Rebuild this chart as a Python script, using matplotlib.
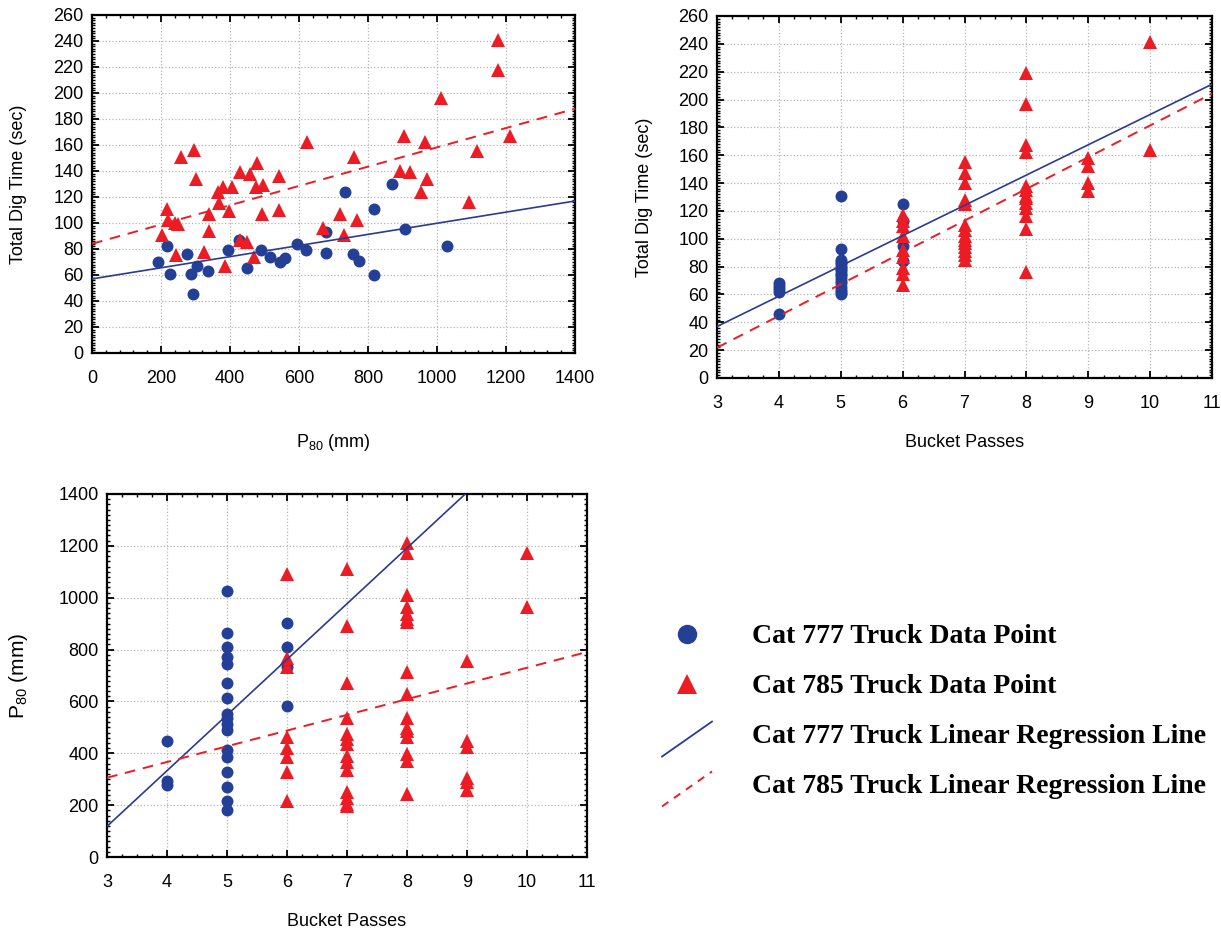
import numpy as np
import matplotlib
matplotlib.use("Agg")
import matplotlib.pyplot as plt
from matplotlib.lines import Line2D
from matplotlib.legend_handler import HandlerLine2D
from matplotlib.ticker import MultipleLocator

plt.rcParams['font.family'] = ['Liberation Sans', 'DejaVu Sans']
plt.rcParams['mathtext.fontset'] = 'custom'
plt.rcParams['mathtext.rm'] = 'Liberation Sans'
plt.rcParams['mathtext.default'] = 'rm'

# ---------------- data ----------------
# Top-left: P80 (mm) vs Total Dig Time (sec)
tl_777_p80 = [190, 218, 225, 274, 286, 293, 305, 335, 395, 427, 450, 491, 515, 546,
              559, 595, 619, 678, 678, 733, 757, 775, 817, 817, 871, 907, 1028]
tl_777_time = [70, 82, 61, 76, 61, 45, 67, 63, 79, 87, 65, 79, 74, 70,
               73, 84, 79, 93, 77, 124, 76, 71, 111, 60, 130, 95, 82]
tl_785_p80 = [1177, 1177, 1013, 905, 965, 1213, 1115, 622, 760, 259, 296, 301, 892, 923,
              972, 953, 1093, 218, 220, 242, 250, 204, 243, 325, 338, 338, 368, 366,
              380, 406, 398, 385, 428, 448, 428, 457, 477, 475, 496, 494, 470, 542,
              542, 670, 718, 730, 767]
tl_785_time = [241, 218, 196, 167, 162, 167, 155, 162, 151, 151, 156, 134, 140, 139,
               134, 124, 116, 111, 102, 100, 99, 91, 75, 78, 94, 107, 115, 124,
               128, 128, 109, 67, 87, 85, 139, 138, 146, 128, 129, 107, 74, 136,
               110, 96, 107, 91, 102]

# Top-right: Bucket Passes vs Total Dig Time (sec)
tr_777_passes = [4, 4, 4, 4, 4,
                 5, 5, 5, 5, 5, 5, 5, 5, 5, 5, 5, 5, 5, 5, 5, 5, 5,
                 6, 6, 6, 6]
tr_777_time = [68, 66, 64, 62, 46,
               131, 93, 85, 83, 82, 80, 78, 77, 75, 74, 72, 70, 68, 65, 63, 62, 60,
               125, 113, 95, 84]
tr_785_passes = [6, 6, 6, 6, 6, 6, 6, 6, 6,
                 7, 7, 7, 7, 7, 7, 7, 7, 7, 7, 7, 7, 7, 7,
                 8, 8, 8, 8, 8, 8, 8, 8, 8, 8, 8, 8, 8,
                 9, 9, 9, 9,
                 10, 10]
tr_785_time = [117, 113, 109, 102, 92, 87, 79, 75, 67,
               155, 147, 140, 128, 125, 110, 106, 102, 99, 97, 94, 91, 88, 85,
               219, 197, 167, 162, 138, 135, 131, 129, 126, 122, 116, 107, 76,
               158, 152, 140, 134,
               241, 164]

# Bottom-left: Bucket Passes vs P80 (mm)
bl_777_passes = [4, 4, 4,
                 5, 5, 5, 5, 5, 5, 5, 5, 5, 5, 5, 5, 5, 5, 5, 5, 5,
                 6, 6, 6, 6]
bl_777_p80 = [448, 292, 277,
              1026, 862, 808, 770, 744, 672, 615, 551, 538, 512, 489, 414, 384, 326, 270, 216, 183,
              903, 808, 733, 583]
bl_785_passes = [6, 6, 6, 6, 6, 6, 6, 6,
                 7, 7, 7, 7, 7, 7, 7, 7, 7, 7, 7, 7, 7, 7,
                 8, 8, 8, 8, 8, 8, 8, 8, 8, 8, 8, 8, 8, 8, 8, 8,
                 9, 9, 9, 9, 9, 9,
                 10, 10]
bl_785_p80 = [1091, 766, 731, 463, 422, 386, 328, 216,
              1109, 892, 673, 538, 476, 457, 435, 390, 367, 337, 251, 229, 206, 198,
              1212, 1171, 1010, 965, 939, 916, 907, 714, 628, 538, 499, 486, 461, 399, 371, 244,
              755, 448, 425, 306, 290, 257,
              1174, 965]

# regression lines (intercept, slope)
tl_777_fit = (57.0, 0.0428)
tl_785_fit = (84.0, 0.0742)
tr_777_fit = (-28.25, 21.75)
tr_785_fit = (-46.6, 22.8)
bl_777_fit = (-526.0, 214.7)
bl_785_fit = (124.0, 60.6)

legend_labels = ["Cat 777 Truck Data Point", "Cat 785 Truck Data Point",
                 "Cat 777 Truck Linear Regression Line", "Cat 785 Truck Linear Regression Line"]

# ---------------- style ----------------
BLUE = '#233f96'
RED = '#ed1c24'
LINE_BLUE = '#2b3a94'
TICK_FS = 13
LABEL_FS = 13

W, H = 1221, 933
fig = plt.figure(figsize=(W / 100, H / 100), dpi=100)


def px_axes(l, t, r, b):
    return fig.add_axes([l / W, 1 - b / H, (r - l) / W, (b - t) / H])


def style(ax, xmaj, xmin, ymaj, ymin):
    ax.xaxis.set_major_locator(MultipleLocator(xmaj))
    ax.xaxis.set_minor_locator(MultipleLocator(xmin))
    ax.yaxis.set_major_locator(MultipleLocator(ymaj))
    ax.yaxis.set_minor_locator(MultipleLocator(ymin))
    ax.tick_params(which='both', direction='in', top=True, right=True,
                   labelsize=TICK_FS, colors='black')
    ax.tick_params(which='major', length=5, width=1.3)
    ax.tick_params(which='minor', length=2.5, width=1.0)
    ax.tick_params(axis='x', which='major', pad=12)
    ax.tick_params(axis='y', which='major', pad=6)
    for s in ax.spines.values():
        s.set_linewidth(1.6)
    ax.grid(True, which='major', linestyle=':', color='#b5b5b5', linewidth=0.9)
    ax.set_axisbelow(True)


def scatter(ax, x1, y1, x2, y2):
    ax.plot(x1, y1, 'o', color=BLUE, markersize=8.6, markeredgewidth=0, zorder=3)
    ax.plot(x2, y2, '^', color=RED, markersize=10.5, markeredgewidth=0, zorder=4)


def fit_lines(ax, xr, f777, f785):
    xs = np.array(xr, dtype=float)
    ax.plot(xs, f777[0] + f777[1] * xs, '-', color=LINE_BLUE, linewidth=1.2, zorder=5)
    ax.plot(xs, f785[0] + f785[1] * xs, '--', color=RED, linewidth=1.4,
            dashes=(5.5, 4), zorder=5)


# top-left
ax1 = px_axes(92, 15, 575, 353)
scatter(ax1, tl_777_p80, tl_777_time, tl_785_p80, tl_785_time)
fit_lines(ax1, [0, 1400], tl_777_fit, tl_785_fit)
ax1.set_xlim(0, 1400)
ax1.set_ylim(0, 260)
style(ax1, 200, 40, 20, 2)
ax1.set_xlabel(r'P$_{80}$ (mm)', fontsize=LABEL_FS)
ax1.set_ylabel('Total Dig Time (sec)', fontsize=LABEL_FS)
ax1.xaxis.set_label_coords(0.5, -0.235)
ax1.yaxis.set_label_coords(-0.135, 0.5)

# top-right
ax2 = px_axes(717, 16, 1212, 378)
scatter(ax2, tr_777_passes, tr_777_time, tr_785_passes, tr_785_time)
fit_lines(ax2, [3, 11], tr_777_fit, tr_785_fit)
ax2.set_xlim(3, 11)
ax2.set_ylim(0, 260)
style(ax2, 1, 0.25, 20, 2)
ax2.set_xlabel('Bucket Passes', fontsize=LABEL_FS)
ax2.set_ylabel('Total Dig Time (sec)', fontsize=LABEL_FS)
ax2.xaxis.set_label_coords(0.5, -0.155)
ax2.yaxis.set_label_coords(-0.13, 0.5)

# bottom-left
ax3 = px_axes(107, 494, 587, 857)
scatter(ax3, bl_777_passes, bl_777_p80, bl_785_passes, bl_785_p80)
fit_lines(ax3, [3, 11], bl_777_fit, bl_785_fit)
ax3.set_xlim(3, 11)
ax3.set_ylim(0, 1400)
style(ax3, 1, 0.25, 200, 20)
ax3.set_xlabel('Bucket Passes', fontsize=LABEL_FS)
ax3.set_ylabel(r'P$_{80}$ (mm)', fontsize=15)
ax3.xaxis.set_label_coords(0.5, -0.155)
ax3.yaxis.set_label_coords(-0.16, 0.5)


# legend with diagonal line keys
class HandlerDiag(HandlerLine2D):
    def create_artists(self, legend, orig_handle, xdescent, ydescent, width, height,
                       fontsize, trans):
        x0 = -xdescent
        x1 = -xdescent + width
        c = height / 2 - ydescent - 0.2 * fontsize
        d = 0.63 * fontsize
        line = Line2D([x0, x1], [c - d, c + d])
        self.update_prop(line, orig_handle, legend)
        line.set_transform(trans)
        return [line]


h1 = Line2D([], [], linestyle='none', marker='o', color=BLUE, markersize=14, markeredgewidth=0)
h2 = Line2D([], [], linestyle='none', marker='^', color=RED, markersize=14, markeredgewidth=0)
h3 = Line2D([], [], linestyle='-', color=LINE_BLUE, linewidth=1.3)
h4 = Line2D([], [], linestyle='--', color=RED, linewidth=1.4, dashes=(4, 3.5))
fig.legend([h1, h2, h3, h4], legend_labels, loc='upper left',
           bbox_to_anchor=(662 / W, 1 - 624 / H), frameon=False, borderpad=0,
           borderaxespad=0, handlelength=1.8, handletextpad=1.44, labelspacing=0.88,
           numpoints=1, prop={'family': 'Liberation Serif', 'weight': 'bold', 'size': 20},
           handler_map={h3: HandlerDiag(), h4: HandlerDiag()})

fig.savefig('out.png', dpi=100)
